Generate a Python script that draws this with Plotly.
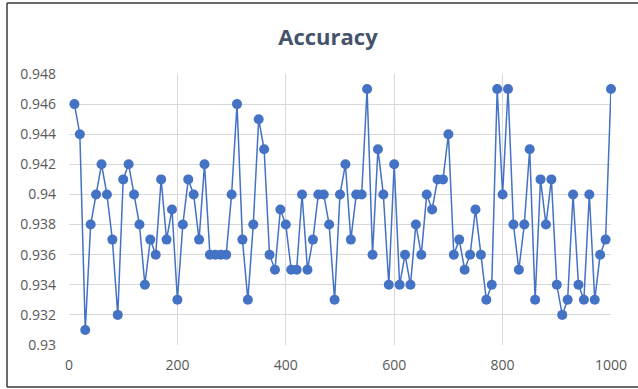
import plotly.graph_objects as go

steps = list(range(10, 1001, 10))
accuracy = [
    0.946, 0.944, 0.931, 0.938, 0.940, 0.942, 0.940, 0.937, 0.932, 0.941,
    0.942, 0.940, 0.938, 0.934, 0.937, 0.936, 0.941, 0.937, 0.939, 0.933,
    0.938, 0.941, 0.940, 0.937, 0.942, 0.936, 0.936, 0.936, 0.936, 0.940,
    0.946, 0.937, 0.933, 0.938, 0.945, 0.943, 0.936, 0.935, 0.939, 0.938,
    0.935, 0.935, 0.940, 0.935, 0.937, 0.940, 0.940, 0.938, 0.933, 0.940,
    0.942, 0.937, 0.940, 0.940, 0.947, 0.936, 0.943, 0.940, 0.934, 0.942,
    0.934, 0.936, 0.934, 0.938, 0.936, 0.940, 0.939, 0.941, 0.941, 0.944,
    0.936, 0.937, 0.935, 0.936, 0.939, 0.936, 0.933, 0.934, 0.947, 0.940,
    0.947, 0.938, 0.935, 0.938, 0.943, 0.933, 0.941, 0.938, 0.941, 0.934,
    0.932, 0.933, 0.940, 0.934, 0.933, 0.940, 0.933, 0.936, 0.937, 0.947,
]
y_tick_vals = [0.930, 0.932, 0.934, 0.936, 0.938, 0.940, 0.942, 0.944, 0.946, 0.948]
y_tick_text = ["0.93", "0.932", "0.934", "0.936", "0.938", "0.94", "0.942", "0.944", "0.946", "0.948"]
x_tick_vals = [0, 200, 400, 600, 800, 1000]
x_tick_text = ["0", "200", "400", "600", "800", "1000"]

BLUE = "#4472C4"
font_family = "Open Sans, Noto Sans, sans-serif"

# frame helpers (paper coords relative to plot area 69..611 x 74..345)
def px_x(p):
    return (p - 69) / 542

def px_y(p):
    return (345 - p) / 271

frame_line = dict(color="#3A3A3A", width=1.5)

fig = go.Figure()
fig.add_trace(go.Scatter(
    x=steps, y=accuracy, mode="lines+markers",
    line=dict(color=BLUE, width=1.5),
    marker=dict(color=BLUE, size=10, line=dict(width=0)),
    showlegend=False, cliponaxis=False,
))

fig.update_layout(
    width=638, height=389,
    margin=dict(l=69, r=27, t=74, b=44),
    paper_bgcolor="white", plot_bgcolor="white",
    title=dict(text="<b>Accuracy</b>", x=328 / 638, xref="container", xanchor="center",
               y=1 - 37 / 389, yref="container", yanchor="middle",
               font=dict(family=font_family, size=22, color="#44546A")),
    font=dict(family=font_family, size=14, color="#595959"),
    xaxis=dict(range=[0, 1000], tickvals=x_tick_vals, ticktext=x_tick_text,
               showgrid=True, gridcolor="#D9D9D9", gridwidth=1, zeroline=False,
               showline=False, ticks="", ticklabelstandoff=10,
               tickfont=dict(size=14, color="#595959")),
    yaxis=dict(range=[0.930, 0.948], tickvals=y_tick_vals, ticktext=y_tick_text,
               showgrid=True, gridcolor="#D9D9D9", gridwidth=1, zeroline=False,
               showline=False, ticks="", ticklabelstandoff=12,
               tickfont=dict(size=14, color="#595959")),
    shapes=[
        dict(type="line", xref="paper", yref="paper",
             x0=px_x(7), x1=px_x(7), y0=px_y(387), y1=px_y(3), line=frame_line, layer="below"),
        dict(type="line", xref="paper", yref="paper",
             x0=px_x(7), x1=px_x(645), y0=px_y(3), y1=px_y(3), line=frame_line, layer="below"),
        dict(type="line", xref="paper", yref="paper",
             x0=px_x(7), x1=px_x(645), y0=px_y(387), y1=px_y(387), line=frame_line, layer="below"),
    ],
)

fig.write_html("out.html")
